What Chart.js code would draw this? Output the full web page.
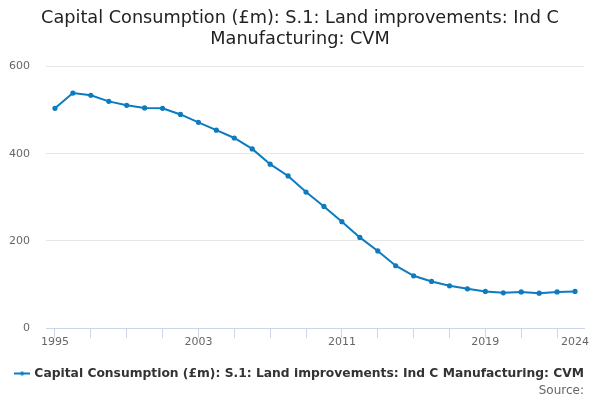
<!DOCTYPE html>
<html>
<head>
<meta charset="utf-8">
<script src="https://cdn.jsdelivr.net/npm/chart.js@4/dist/chart.umd.min.js"></script>
<style>
  body { margin: 0; background: #fff; }
  #wrap { width: 600px; height: 400px; }
</style>
</head>
<body>
<div id="wrap"><canvas id="chart" width="600" height="400"></canvas></div>
<script>
const years = [];
for (let y = 1995; y <= 2024; y++) years.push(String(y));

const capCons = [
    504, 539, 534, 520, 511, 505, 504, 490, 472, 454,
    436, 411, 376, 349, 312, 279, 244, 208, 177, 143,
    120, 107, 97, 90, 84, 81, 83, 80, 83, 84
];

const shownLabels = ['1995', '2003', '2011', '2019', '2024'];
const seriesName = 'Capital Consumption (£m): S.1: Land improvements: Ind C Manufacturing: CVM';
const lineColour = '#0c7bc0';

// little line-with-dot marker for the legend
const marker = document.createElement('canvas');
marker.width = 16;
marker.height = 8;
const mctx = marker.getContext('2d');
mctx.strokeStyle = lineColour;
mctx.lineWidth = 2;
mctx.beginPath();
mctx.moveTo(0, 4);
mctx.lineTo(16, 4);
mctx.stroke();
mctx.fillStyle = lineColour;
mctx.beginPath();
mctx.arc(8, 4, 2, 0, Math.PI * 2);
mctx.fill();

Chart.defaults.font.family = 'DejaVu Sans';

new Chart(document.getElementById('chart'), {
    type: 'line',
    data: {
        labels: years,
        datasets: [{
            label: seriesName,
            data: capCons,
            borderColor: lineColour,
            backgroundColor: lineColour,
            borderWidth: 2,
            pointRadius: 1.6,
            pointHoverRadius: 3,
            tension: 0
        }]
    },
    options: {
        responsive: false,
        animation: false,
        layout: { padding: { left: 2, right: 2, top: 4, bottom: 2 } },
        plugins: {
            title: {
                display: true,
                text: ['Capital Consumption (£m): S.1: Land improvements: Ind C', 'Manufacturing: CVM'],
                color: '#222',
                font: { size: 17.7, weight: 'normal', lineHeight: 1.2 },
                padding: { top: 4, bottom: 16 }
            },
            subtitle: {
                display: true,
                position: 'bottom',
                align: 'end',
                fullSize: false,
                text: 'Source:',
                color: '#666',
                font: { size: 12 },
                padding: { top: -6, bottom: 0 }
            },
            legend: {
                position: 'bottom',
                labels: {
                    color: '#333',
                    font: { size: 12.3, weight: 'bold' },
                    usePointStyle: true,
                    pointStyle: marker,
                    padding: 8
                }
            },
            tooltip: { enabled: false }
        },
        scales: {
            x: {
                offset: true,
                afterFit: scale => { scale.height += 14; },
                grid: {
                    offset: false,
                    drawOnChartArea: false,
                    drawTicks: true,
                    tickLength: 10,
                    color: ctx => ctx.index % 2 === 0 ? '#ccd6eb' : 'transparent'
                },
                border: { color: '#ccd6eb' },
                ticks: {
                    autoSkip: false,
                    maxRotation: 0,
                    color: '#666',
                    font: { size: 11 },
                    padding: -3,
                    callback: function (val) {
                        const lab = this.getLabelForValue(val);
                        return shownLabels.includes(lab) ? lab : '';
                    }
                }
            },
            y: {
                min: 0,
                max: 600,
                afterFit: scale => { scale.width = 44; },
                ticks: {
                    stepSize: 200,
                    color: '#666',
                    font: { size: 11 },
                    padding: 16
                },
                grid: { color: '#e6e6e6', drawTicks: false },
                border: { display: false }
            },
            // empty right axis, only keeps a small gap right of the plot
            yRight: {
                position: 'right',
                min: 0,
                max: 600,
                afterFit: scale => { scale.width = 14; },
                ticks: { display: false },
                grid: { drawOnChartArea: false, drawTicks: false },
                border: { display: false }
            }
        }
    }
});
</script>
</body>
</html>
